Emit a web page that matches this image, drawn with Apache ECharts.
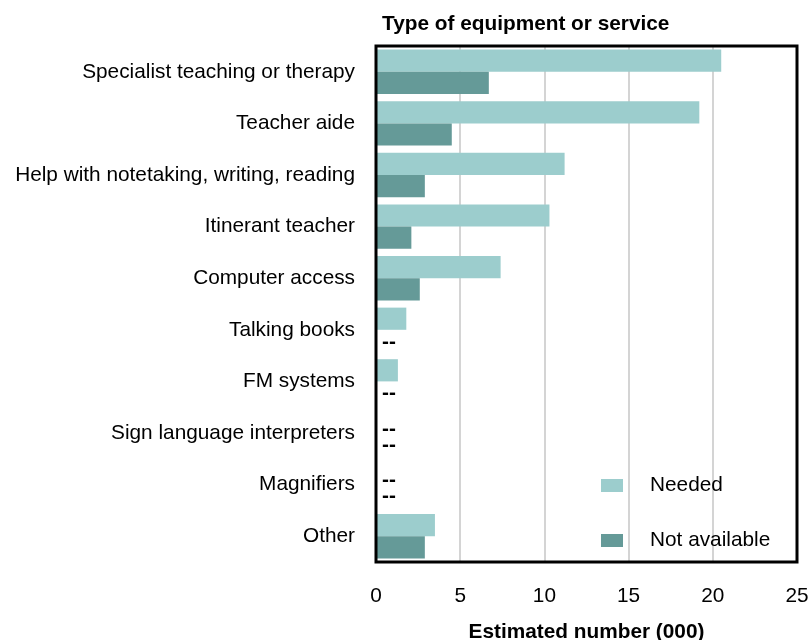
<!DOCTYPE html>
<html><head><meta charset="utf-8">
<script src="https://cdn.jsdelivr.net/npm/echarts@6/dist/echarts.min.js"></script>
<style>html,body{margin:0;padding:0;background:#fff}#c{width:810px;height:640px}</style>
</head><body><div id="c"></div>
<script>
const categories = ["Specialist teaching or therapy","Teacher aide","Help with notetaking, writing, reading","Itinerant teacher","Computer access","Talking books","FM systems","Sign language interpreters","Magnifiers","Other"];
const needed = [20.5, 19.2, 11.2, 10.3, 7.4, 1.8, 1.3, null, null, 3.5];
const notAvailable = [6.7, 4.5, 2.9, 2.1, 2.6, null, null, null, null, 2.9];
const xTicks = [0, 5, 10, 15, 20, 25];
const seriesNames = ["Needed", "Not available"];

const FS = 20.8;
function toData(arr, dy) {
  return arr.map(v => v === null
    ? {value: 0, label: {show: true, position: 'right', formatter: '--', offset: [0, dy], fontSize: FS, fontWeight: 'bold', color: '#000', distance: 6}}
    : v);
}
const chart = echarts.init(document.getElementById('c'));
chart.setOption({
  animation: false,
  textStyle: {fontFamily: 'Liberation Sans, Arial, sans-serif'},
  title: {text: 'Type of equipment or service', left: 377, top: 9,
    textStyle: {fontSize: FS, fontWeight: 'bold', color: '#000', fontFamily: 'Liberation Sans, Arial, sans-serif'}},
  grid: {left: 376, right: 13, top: 46, bottom: 78, show: true, z: 10, borderColor: '#000', borderWidth: 3, backgroundColor: 'transparent',
    containLabel: false, outerBoundsMode: 'none'},
  legend: {orient: 'vertical', left: 596, top: 470, itemWidth: 22, itemHeight: 13, itemGap: 34, icon: 'rect',
    data: seriesNames,
    textStyle: {fontSize: FS, color: '#000', padding: [0, 0, 0, 22]}},
  xAxis: {type: 'value', min: xTicks[0], max: xTicks[xTicks.length-1], interval: 5,
    name: 'Estimated number (000)', nameLocation: 'middle', nameGap: 60,
    nameTextStyle: {fontSize: FS, fontWeight: 'bold', color: '#000'},
    axisLine: {show: false}, axisTick: {show: false},
    axisLabel: {fontSize: FS, color: '#000', margin: 24},
    splitLine: {show: true, lineStyle: {color: '#d4d4d4', width: 2}}},
  yAxis: {type: 'category', data: categories, inverse: true,
    axisLine: {show: false}, axisTick: {show: false},
    axisLabel: {fontSize: FS, color: '#000', margin: 21}},
  series: [
    {name: seriesNames[0], type: 'bar', data: toData(needed, 7), barGap: '0%', barCategoryGap: '14%',
     itemStyle: {color: '#9ccdcd'}},
    {name: seriesNames[1], type: 'bar', data: toData(notAvailable, 1), barGap: '0%', barCategoryGap: '14%',
     itemStyle: {color: '#659a98'}}
  ]
});
</script></body></html>
